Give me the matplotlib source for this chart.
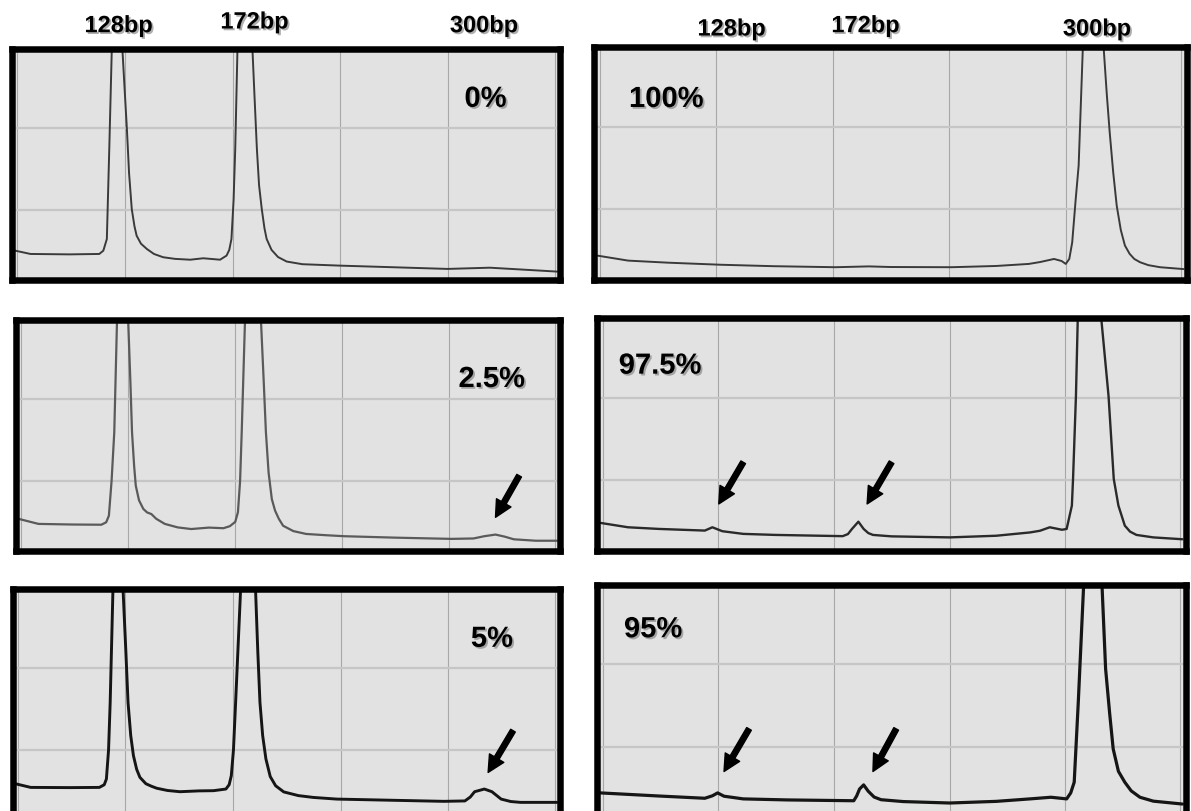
import matplotlib
matplotlib.use('Agg')
import matplotlib.pyplot as plt
import matplotlib.patheffects as pe
from matplotlib import font_manager as fm

_names = {f.name for f in fm.fontManager.ttflist}
NARROW = 'Liberation Sans Narrow' in _names
LABEL_FAMILY = ['Liberation Sans Narrow', 'Liberation Sans', 'DejaVu Sans'] if NARROW else ['Liberation Sans', 'DejaVu Sans']
plt.rcParams['font.family'] = LABEL_FAMILY
PCT_SIZE = 24 if NARROW else 21
BP_SIZE = 19 if NARROW else 17

# ---------------- data ----------------
size_labels = ['128bp', '172bp', '300bp']
percent_labels = ['0%', '100%', '2.5%', '97.5%', '5%', '95%']

tl_x = [0, 2.8, 10, 15.5, 16.25, 16.9, 17.35, 17.8, 18.8, 19.8, 20.2, 20.6, 21.0, 21.5, 22.0, 22.4, 23.2,
        24.3, 25.6, 27.3, 29.5, 32.3, 34.7, 37.8, 39.0, 39.5, 39.9, 40.3, 40.6, 41.0, 42.4, 43.8, 44.2,
        44.6, 45.0, 45.5, 46.0, 46.4, 47.3, 48.5, 50.1, 53, 60.0, 70, 79.8, 87.6, 100]
tl_y = [20.1, 18.5, 18.3, 18.5, 20.1, 25.8, 70, 117, 180, 117, 98, 79.5, 58, 40.4, 32, 27.4, 23.5,
        20.9, 18.5, 16.9, 16.1, 15.7, 16.4, 15.7, 17.7, 20.5, 25.8, 45, 69.7, 117, 180, 117, 93,
        69.7, 52, 40.4, 31, 25.8, 20.5, 17, 14.8, 13.5, 12.8, 12.0, 11.2, 11.8, 9.9]

tr_x = [0, 5.2, 12, 21.0, 30, 40.6, 46.3, 50, 60.4, 68, 73.6, 75.5, 77.9, 79.2, 79.9, 80.5, 81.0, 81.6,
        82.1, 82.8, 84.6, 86.4, 86.9, 87.4, 88.0, 88.6, 89.3, 90.0, 90.8, 91.6, 92.6, 94, 96, 100]
tr_y = [17.6, 15.2, 14.2, 13.2, 12.5, 12.0, 12.4, 12.1, 12.0, 12.6, 13.6, 14.5, 16.0, 15.0, 13.6, 16, 24, 45,
        61.2, 117, 180, 117, 96, 77.4, 58, 41.8, 30, 22.5, 18.5, 16.0, 14.4, 13.0, 12.0, 11.1]

ml_x = [0, 3.6, 10, 15.3, 16.2, 16.7, 17.2, 17.7, 18.2, 19.3, 20.3, 20.7, 21.0, 21.4, 21.7, 22.3, 23.1,
        23.8, 24.6, 25.5, 27.1, 29.5, 32.0, 35.3, 38, 39.2, 40.2, 40.7, 41.1, 41.4, 42.0, 43.5, 45.0,
        45.5, 45.9, 46.4, 47.0, 47.6, 48.3, 49.1, 51, 53.4, 57, 60.5, 70, 80.4, 84.5, 86.5, 88.6, 90.3,
        92.0, 96.1, 100]
ml_y = [21.4, 19.0, 18.7, 18.6, 19.8, 23.0, 40.0, 63.7, 117, 180, 117, 88, 63.7, 47, 37.6, 30.5, 26.3,
        24.6, 23.8, 21.5, 19.0, 17.3, 16.5, 17.2, 16.9, 17.9, 20.0, 24.7, 40, 63.7, 117, 180, 117,
        88, 63.7, 44, 31.1, 25.5, 21.5, 18.1, 15.5, 14.1, 13.5, 13.0, 12.3, 11.7, 11.9, 13.0, 13.8, 12.8,
        11.5, 10.8, 10.8]

mr_x = [0, 4.7, 10, 17.9, 19.2, 20.9, 24.5, 30, 41.6, 42.5, 43.2, 44.3, 45.2, 46.0, 46.8, 50, 60.0, 68,
        73.8, 75.5, 77.2, 79.3, 80.1, 81.0, 81.2, 81.7, 82.0, 84.0, 86.1, 87.3, 88.2, 89.0, 90.1, 91,
        92.1, 95.0, 100]
mr_y = [19.4, 17.3, 16.5, 15.7, 17.3, 15.4, 14.1, 13.6, 13.0, 14, 16.5, 20.0, 16.5, 14.5, 13.6, 12.9, 12.4, 13.2,
        14.8, 15.6, 17.3, 16.1, 16.5, 27.8, 40.7, 81.0, 117, 180, 117, 81.0, 40.7, 27.8, 18.1, 15.2,
        13.6, 12.4, 11.5]

bl_x = [0, 2.7, 10, 15.4, 16.3, 16.7, 17.1, 17.4, 17.9, 18.9, 19.8, 20.3, 20.7, 21.2, 21.7, 22.3, 22.9,
        24.0, 25, 26.0, 28, 30.3, 33.8, 36.5, 38.8, 39.4, 39.8, 40.2, 40.6, 41.5, 43.3, 44.3, 44.7,
        45.1, 45.6, 46.2, 47.0, 48.0, 49.5, 52.2, 55, 59.3, 70, 79.1, 83.0, 84.0, 84.8, 86.6, 88.0,
        89.7, 91.5, 93.3, 100]
bl_y = [23.4, 21.7, 21.6, 21.7, 23.0, 25.8, 40.0, 63.2, 117, 180, 117, 88, 63.2, 47, 37.2, 30.5, 26.6,
        23.5, 22.3, 21.3, 20.2, 19.6, 20.0, 20.1, 20.9, 23, 27.4, 40.0, 63.2, 117, 180, 117, 88,
        63.2, 47, 35.6, 27, 22.5, 19.5, 17.7, 16.8, 16.0, 15.4, 14.9, 15.1, 17, 19.6, 20.9, 19.6,
        16.0, 14.8, 14.4, 14.4]

br_x = [0, 10, 17.9, 19.2, 20.1, 21.2, 24.5, 32, 43.5, 44.0, 44.5, 45.2, 46.0, 47, 48.2, 52, 60.0, 68,
        73.8, 77.4, 80.1, 80.8, 81.4, 82.1, 83.0, 84.6, 86.2, 86.8, 87.5, 88.1, 89, 90.1, 91.2, 92.7,
        95, 100]
br_y = [17.5, 16, 14.9, 16.1, 17.5, 15.9, 14.6, 14.1, 13.7, 16, 19.4, 21.4, 18.3, 15.5, 14.2, 13.3, 12.6, 13.4,
        14.6, 15.4, 14.6, 17.5, 22.7, 61.5, 117, 180, 117, 77.7, 56, 38.9, 28, 22.7, 18.5, 15.4,
        13.5, 12.1]

# arrows: (tail_x, tail_y, tip_x, tip_y)
ml_arrows = [(93.0, 42.5, 88.6, 22.2)]
mr_arrows = [(24.5, 48.8, 20.3, 28.6), (50.0, 48.8, 45.8, 28.6)]
bl_arrows = [(91.9, 49.4, 87.3, 29.0)]
br_arrows = [(25.5, 48.6, 21.2, 27.9), (50.8, 48.6, 46.8, 27.9)]

# ---------------- figure ----------------
W, H = 1191, 812
fig = plt.figure(figsize=(W / 100, H / 100), dpi=100)
fig.patch.set_facecolor('white')
BW = 6.5  # border width in pixels

shadow = [pe.SimplePatchShadow(offset=(1.3, -1.3), shadow_rgbFace='#7a7a7a', alpha=0.6), pe.Normal()]


def panel(box, xs, ys, color, lw, label, label_xy, arrows):
    l, r, t, b = box
    L, R, T, B = l - BW / 2, r + BW / 2, t - BW / 2, b + BW / 2
    ax = fig.add_axes([L / W, 1 - B / H, (R - L) / W, (B - T) / H])
    ax.set_xlim((L - l) / (r - l) * 100, (R - l) / (r - l) * 100)
    ylo, yspan = 7.6, 109.3
    ax.set_ylim(ylo + yspan * (b - B) / (b - t), ylo + yspan * (b - T) / (b - t))
    ax.set_facecolor('#e2e2e2')
    for gx in [0.4, 20.2, 40.1, 60.0, 79.9, 99.6]:
        ax.axvline(gx, color='#a8a8a8', lw=0.8, zorder=1)
    for gy in [40, 80]:
        ax.axhline(gy, color='#c6c6c6', lw=1.6, zorder=1)
    ax.plot(xs, ys, color=color, lw=lw, zorder=3, solid_joinstyle='round', solid_capstyle='round')
    for s in ax.spines.values():
        s.set_linewidth(BW * 0.72)
        s.set_color('black')
        s.set_zorder(5)
    ax.set_xticks([])
    ax.set_yticks([])
    ax.text(label_xy[0], label_xy[1], label, fontsize=PCT_SIZE, fontweight='bold', ha='center', va='center',
            color='black', path_effects=shadow, zorder=6)
    for (x0, y0, x1, y1) in arrows:
        ax.annotate('', xy=(x1, y1), xytext=(x0, y0),
                    arrowprops=dict(arrowstyle='simple,head_length=0.75,head_width=0.75,tail_width=0.24',
                                    mutation_scale=16, color='black', shrinkA=0, shrinkB=0), zorder=6)
    return ax


panel((15.3, 557.0, 53.3, 277.3), tl_x, tl_y, '#3a3a3a', 1.4, percent_labels[0], (86.8, 94.2), [])
panel((597.7, 1183.5, 51.7, 277.3), tr_x, tr_y, '#3a3a3a', 1.4, percent_labels[1], (11.7, 93.5), [])
panel((19.1, 556.8, 324.0, 548.3), ml_x, ml_y, '#5a5a5a', 1.6, percent_labels[2], (87.9, 89.6), ml_arrows)
panel((600.7, 1182.4, 322.7, 548.3), mr_x, mr_y, '#2a2a2a', 1.7, percent_labels[3], (10.2, 95.6), mr_arrows)
panel((16.1, 556.8, 593.3, 817.3), bl_x, bl_y, '#151515', 2.1, percent_labels[4], (88.0, 94.2), bl_arrows)
panel((600.7, 1182.4, 589.3, 814.3), br_x, br_y, '#151515', 2.3, percent_labels[5], (9.0, 97.0), br_arrows)

# size labels above the top panels (pixel positions)
left_pos = [(118.6, 26.7), (254.5, 23.0), (484.0, 26.7)]
right_pos = [(731.6, 30.0), (865.5, 26.7), (1097.0, 30.0)]
for lab, (px, py) in list(zip(size_labels, left_pos)) + list(zip(size_labels, right_pos)):
    fig.text(px / W, 1 - py / H, lab, fontsize=BP_SIZE, fontweight='bold', ha='center', va='center',
             color='black', path_effects=shadow)

fig.savefig('out.png', dpi=100)
